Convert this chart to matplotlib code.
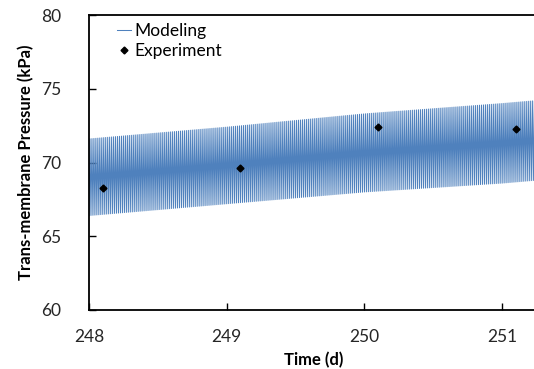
import numpy as np
import matplotlib.pyplot as plt

plt.rcParams['font.family'] = ['Lato', 'DejaVu Sans']

# experiment points
exp_time = [248.1, 249.1, 250.1, 251.1]
exp_tmp = [68.3, 69.6, 72.4, 72.3]

# model envelope (trough / peak of each filtration cycle) read at a few times
env_time = [248.0, 249.0, 250.0, 251.0, 251.25]
env_low = [66.4, 67.2, 68.0, 68.6, 68.8]
env_high = [71.6, 72.4, 73.3, 74.0, 74.2]
cycles_per_day = 70

# build the sawtooth of the model: trough, peak, trough, ...
n = int((env_time[-1] - env_time[0]) * cycles_per_day)
t_low = env_time[0] + np.arange(n + 1) / cycles_per_day
t_high = t_low[:-1] + 0.5 / cycles_per_day
model_t = np.empty(2 * n + 1)
model_p = np.empty(2 * n + 1)
model_t[0::2] = t_low
model_t[1::2] = t_high
model_p[0::2] = np.interp(t_low, env_time, env_low)
model_p[1::2] = np.interp(t_high, env_time, env_high)

fig = plt.figure(figsize=(5.34, 3.69), dpi=100)
ax = fig.add_axes([89 / 534, 1 - 310 / 369, 1 - 89 / 534 + 0.01, 295 / 369])

ax.plot(model_t, model_p, color='#4f81bd', lw=0.75, label='Modeling')
ax.plot(exp_time, exp_tmp, 'D', color='black', ms=3.5, label='Experiment')

ax.set_xlim(248, 251.27)
ax.set_ylim(60, 80)
ax.set_xticks([248, 249, 250, 251])
ax.set_yticks([60, 65, 70, 75, 80])
ax.tick_params(direction='in', length=5, width=1, labelsize=12.5, labelcolor='#262626')
ax.tick_params(axis='x', pad=14)
ax.tick_params(axis='y', pad=20)
for s in ax.spines.values():
    s.set_linewidth(1.3)
ax.spines['right'].set_visible(False)

ax.set_xlabel('Time (d)', fontsize=12, fontweight='bold', labelpad=5)
ax.set_ylabel('Trans-membrane Pressure (kPa)', fontsize=12, fontweight='bold', labelpad=5)

ax.legend(loc='upper left', frameon=False, fontsize=12.5, handlelength=0.8,
          handletextpad=0.2, borderaxespad=0.3, labelspacing=0.25,
          bbox_to_anchor=(0.035, 1.015))

fig.savefig('out.png', dpi=100)
